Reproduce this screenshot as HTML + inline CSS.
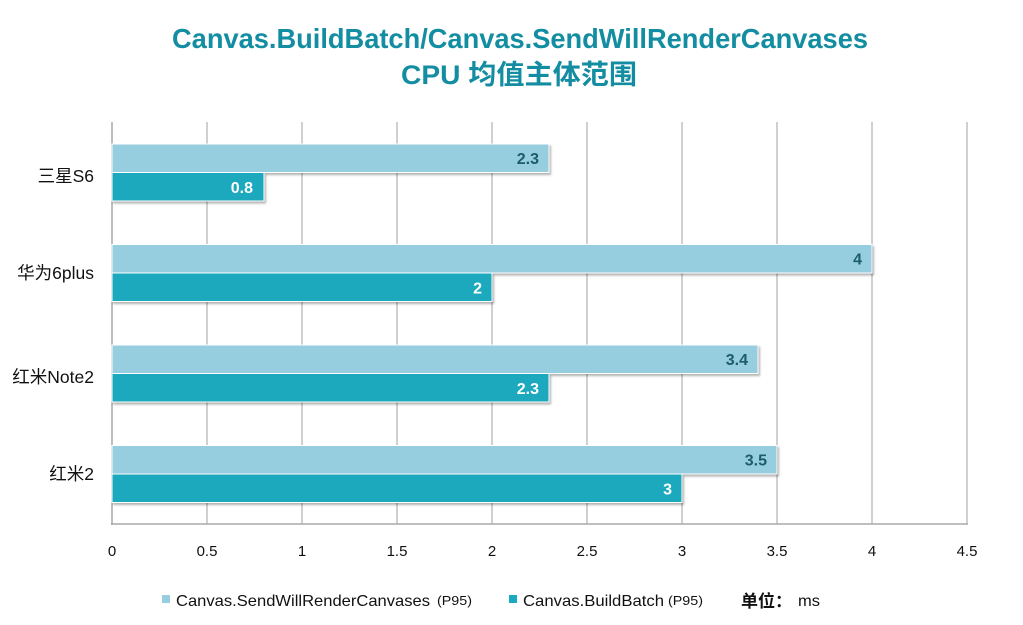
<!DOCTYPE html>
<html>
<head>
<meta charset="utf-8">
<style>
  html, body { margin: 0; padding: 0; background: #ffffff; }
  svg { display: block; }
  text { font-family: "Liberation Sans", "Noto Sans CJK SC", sans-serif; }
</style>
</head>
<body>
<svg width="1023" height="625" viewBox="0 0 1023 625" xmlns="http://www.w3.org/2000/svg">
  <defs>
    <filter id="sh" x="-5%" y="-20%" width="110%" height="150%">
      <feDropShadow dx="1.5" dy="2" stdDeviation="1" flood-color="#000" flood-opacity="0.3"/>
    </filter>
  </defs>
  <rect width="1023" height="625" fill="#ffffff"/>

  <!-- Title -->
  <text x="520" y="48" text-anchor="middle" font-size="28" font-weight="bold" fill="#138DA1" textLength="696" lengthAdjust="spacingAndGlyphs">Canvas.BuildBatch/Canvas.SendWillRenderCanvases</text>
  <text x="519" y="84" text-anchor="middle" font-size="27" font-weight="bold" fill="#138DA1" textLength="236" lengthAdjust="spacingAndGlyphs">CPU 均值主体范围</text>

  <!-- Gridlines -->
  <g stroke="#C0C0C0" stroke-width="1.5">
    <line x1="207" y1="122" x2="207" y2="524"/>
    <line x1="302" y1="122" x2="302" y2="524"/>
    <line x1="397" y1="122" x2="397" y2="524"/>
    <line x1="492" y1="122" x2="492" y2="524"/>
    <line x1="587" y1="122" x2="587" y2="524"/>
    <line x1="682" y1="122" x2="682" y2="524"/>
    <line x1="777" y1="122" x2="777" y2="524"/>
    <line x1="872" y1="122" x2="872" y2="524"/>
    <line x1="967" y1="122" x2="967" y2="524"/>
  </g>
  <!-- Axes -->
  <line x1="112" y1="122" x2="112" y2="525" stroke="#A8A8A8" stroke-width="1.5"/>
  <line x1="111" y1="524" x2="968" y2="524" stroke="#A8A8A8" stroke-width="1.5"/>

  <!-- Bars -->
  <g filter="url(#sh)" stroke="#ffffff" stroke-width="1">
    <rect x="112" y="144" width="437" height="28.5" fill="#97CEDF"/>
    <rect x="112" y="172.5" width="152" height="28.5" fill="#1AA9BE"/>
    <rect x="112" y="244.5" width="760" height="28.5" fill="#97CEDF"/>
    <rect x="112" y="273" width="380" height="28.5" fill="#1AA9BE"/>
    <rect x="112" y="345" width="646" height="28.5" fill="#97CEDF"/>
    <rect x="112" y="373.5" width="437" height="28.5" fill="#1AA9BE"/>
    <rect x="112" y="445.5" width="665" height="28.5" fill="#97CEDF"/>
    <rect x="112" y="474" width="570" height="28.5" fill="#1AA9BE"/>
  </g>

  <!-- Value labels -->
  <g font-size="16" font-weight="bold" text-anchor="end">
    <text x="539" y="164" fill="#1B5C6C">2.3</text>
    <text x="253" y="193" fill="#ffffff">0.8</text>
    <text x="862" y="264.5" fill="#1B5C6C">4</text>
    <text x="482" y="293.5" fill="#ffffff">2</text>
    <text x="748" y="365" fill="#1B5C6C">3.4</text>
    <text x="539" y="394" fill="#ffffff">2.3</text>
    <text x="767" y="465.5" fill="#1B5C6C">3.5</text>
    <text x="672" y="494.5" fill="#ffffff">3</text>
  </g>

  <!-- Category labels -->
  <g font-size="17.5" fill="#111" text-anchor="end">
    <text x="94" y="182">三星S6</text>
    <text x="94" y="279">华为6plus</text>
    <text x="94" y="383">红米Note2</text>
    <text x="94" y="480">红米2</text>
  </g>

  <!-- X tick labels -->
  <g font-size="15" fill="#111" text-anchor="middle">
    <text x="112" y="556">0</text>
    <text x="207" y="556">0.5</text>
    <text x="302" y="556">1</text>
    <text x="397" y="556">1.5</text>
    <text x="492" y="556">2</text>
    <text x="587" y="556">2.5</text>
    <text x="682" y="556">3</text>
    <text x="777" y="556">3.5</text>
    <text x="872" y="556">4</text>
    <text x="967" y="556">4.5</text>
  </g>

  <!-- Legend -->
  <rect x="162" y="595" width="8" height="8" fill="#97CEDF"/>
  <text x="176" y="606" font-size="16" fill="#111" textLength="254" lengthAdjust="spacingAndGlyphs">Canvas.SendWillRenderCanvases</text>
  <text x="437" y="605" font-size="13" fill="#111" textLength="35" lengthAdjust="spacingAndGlyphs">(P95)</text>

  <rect x="509" y="595" width="8" height="8" fill="#1AA9BE"/>
  <text x="523" y="606" font-size="16" fill="#111" textLength="141" lengthAdjust="spacingAndGlyphs">Canvas.BuildBatch</text>
  <text x="668" y="605" font-size="13" fill="#111" textLength="35" lengthAdjust="spacingAndGlyphs">(P95)</text>

  <text x="741" y="607" font-size="17" font-weight="bold" fill="#111">单位：</text>
  <text x="798" y="606" font-size="16" fill="#111" textLength="22" lengthAdjust="spacingAndGlyphs">ms</text>
</svg>
</body>
</html>
